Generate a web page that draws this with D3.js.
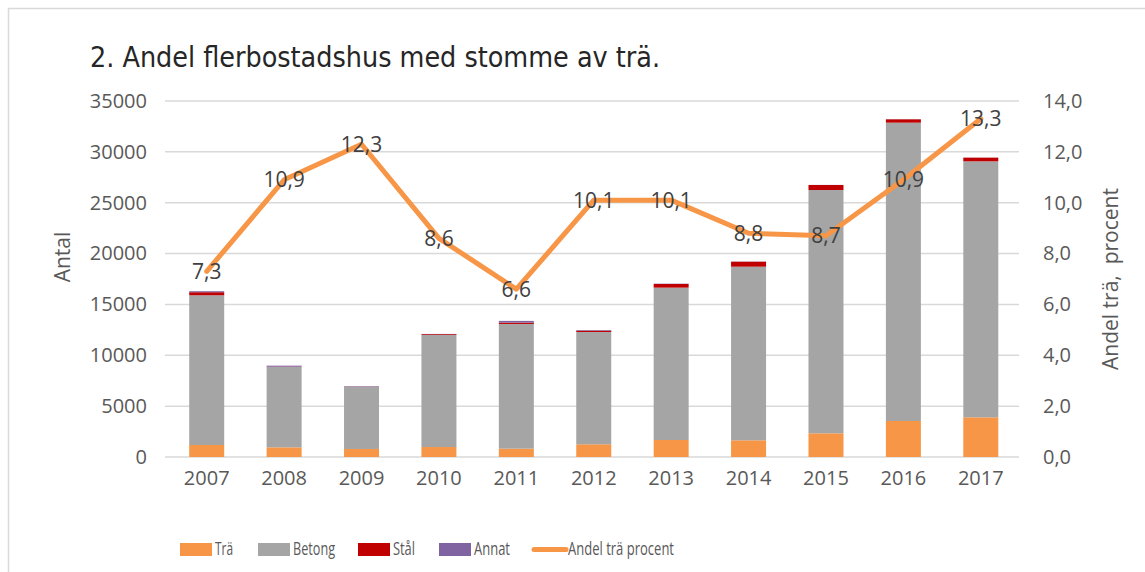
<!DOCTYPE html>
<html>
<head>
<meta charset="utf-8">
<script src="https://cdn.jsdelivr.net/npm/d3@7"></script>
<style>
  body { margin: 0; background: #fff; }
  text { font-family: "Open Sans", "Noto Sans", sans-serif; }
</style>
</head>
<body>
<div id="chart"></div>
<script>
// data
var years = ["2007","2008","2009","2010","2011","2012","2013","2014","2015","2016","2017"];
var tra    = [1180, 950, 790, 980, 820, 1250, 1670, 1640, 2330, 3540, 3900];
var betong = [14720, 7900, 6100, 11020, 12260, 11040, 14980, 17070, 23920, 29330, 25170];
var stal   = [300, 30, 20, 80, 130, 130, 360, 490, 490, 330, 360];
var annat  = [100, 100, 50, 20, 170, 60, 30, 20, 10, 10, 10];
var andel  = [7.3, 10.9, 12.3, 8.6, 6.6, 10.1, 10.1, 8.8, 8.7, 10.9, 13.3];
var leftTicks  = [0, 5000, 10000, 15000, 20000, 25000, 30000, 35000];
var rightTicks = [0, 2, 4, 6, 8, 10, 12, 14];
var seriesNames = ["Trä", "Betong", "Stål", "Annat"];
var colors = ["#F79646", "#A5A5A5", "#C00000", "#8064A2"];

var W = 1145, H = 572;
var narrow = '"Liberation Sans Narrow", "DejaVu Sans Condensed", sans-serif';
var svg = d3.select("#chart").append("svg").attr("width", W).attr("height", H);

// frame
svg.append("rect").attr("x", 8.5).attr("y", 8.5).attr("width", W + 10).attr("height", H + 10)
  .attr("fill", "none").attr("stroke", "#d9d9d9").attr("stroke-width", 1.5);

var x = d3.scaleBand().domain(years).range([168, 1019.5]).paddingInner(0.548).paddingOuter(0.274);
var y = d3.scaleLinear().domain([0, 35000]).range([457, 101]);
var y2 = d3.scaleLinear().domain([0, 14]).range([457, 101]);

// gridlines
svg.append("g").selectAll("line").data(leftTicks).enter().append("line")
  .attr("x1", 165).attr("x2", 1019)
  .attr("y1", d => y(d)).attr("y2", d => y(d))
  .attr("stroke", "#d9d9d9").attr("stroke-width", 1.5);

// stacked bars
var rows = years.map((yr, i) => ({ year: yr, "Trä": tra[i], "Betong": betong[i], "Stål": stal[i], "Annat": annat[i] }));
var stack = d3.stack().keys(seriesNames)(rows);

svg.append("g").selectAll("g").data(stack).enter().append("g")
  .attr("fill", (d, i) => colors[i])
  .selectAll("rect").data(d => d).enter().append("rect")
  .attr("x", d => x(d.data.year))
  .attr("width", x.bandwidth())
  .attr("y", d => y(d[1]))
  .attr("height", d => y(d[0]) - y(d[1]));

// line
var line = d3.line()
  .x((d, i) => x(years[i]) + x.bandwidth() / 2)
  .y(d => y2(d));
svg.append("path").attr("d", line(andel))
  .attr("fill", "none").attr("stroke", "#F79646").attr("stroke-width", 5)
  .attr("stroke-linejoin", "round").attr("stroke-linecap", "round");

// data labels
svg.append("g").selectAll("text").data(andel).enter().append("text")
  .attr("x", (d, i) => x(years[i]) + x.bandwidth() / 2)
  .attr("y", d => y2(d))
  .attr("dy", "0.35em")
  .attr("text-anchor", "middle")
  .attr("font-size", 21).attr("fill", "#404040")
  .text(d => d3.format(".1f")(d).replace(".", ","));

// left axis
var yAxis = d3.axisLeft(y).tickValues(leftTicks).tickSize(0).tickPadding(18).tickFormat(d3.format("d"));
var gl = svg.append("g").attr("transform", "translate(165,0)").call(yAxis);
gl.select(".domain").remove();
gl.selectAll("text").attr("font-size", 20).attr("fill", "#595959")
  .style("font-family", '"Open Sans", sans-serif');

// right axis
var y2Axis = d3.axisRight(y2).tickValues(rightTicks).tickSize(0).tickPadding(24)
  .tickFormat(d => d3.format(".1f")(d).replace(".", ","));
var gr = svg.append("g").attr("transform", "translate(1019,0)").call(y2Axis);
gr.select(".domain").remove();
gr.selectAll("text").attr("font-size", 20).attr("fill", "#595959")
  .style("font-family", '"Open Sans", sans-serif');

// x axis
var xAxis = d3.axisBottom(x).tickSize(0).tickPadding(14);
var gx = svg.append("g").attr("transform", "translate(0,457)").call(xAxis);
gx.select(".domain").remove();
gx.selectAll("text").attr("font-size", 20).attr("fill", "#595959")
  .style("font-family", '"Open Sans", sans-serif');

// axis titles
svg.append("text").attr("transform", "translate(70,257) rotate(-90)")
  .attr("text-anchor", "middle").attr("font-size", 21).attr("fill", "#595959").text("Antal");
svg.append("text").attr("transform", "translate(1118,279) rotate(-90)")
  .attr("text-anchor", "middle").attr("font-size", 21).attr("fill", "#595959")
  .attr("xml:space", "preserve").text("Andel trä,  procent");

// title
svg.append("text").attr("x", 90).attr("y", 67)
  .style("font-family", narrow)
  .attr("font-size", 28).attr("fill", "#262626")
  .attr("textLength", 570).attr("lengthAdjust", "spacingAndGlyphs")
  .text("2. Andel flerbostadshus med stomme av trä.");

// legend
var legendX = [180, 258, 358, 439];
var legendW = [18, 42, 22, 36];
var lg = svg.append("g");
seriesNames.forEach(function (name, i) {
  lg.append("rect").attr("x", legendX[i]).attr("y", 543).attr("width", 32).attr("height", 13).attr("fill", colors[i]);
  lg.append("text").attr("x", legendX[i] + 35).attr("y", 549).attr("dy", "0.35em")
    .attr("font-size", 18).attr("fill", "#595959")
    .attr("textLength", legendW[i]).attr("lengthAdjust", "spacingAndGlyphs")
    .text(name);
});
lg.append("line").attr("x1", 534).attr("x2", 566).attr("y1", 549.5).attr("y2", 549.5)
  .attr("stroke", "#F79646").attr("stroke-width", 5).attr("stroke-linecap", "round");
lg.append("text").attr("x", 568).attr("y", 549).attr("dy", "0.35em")
  .attr("font-size", 18).attr("fill", "#595959")
  .attr("textLength", 106).attr("lengthAdjust", "spacingAndGlyphs")
  .text("Andel trä procent");
</script>
</body>
</html>
